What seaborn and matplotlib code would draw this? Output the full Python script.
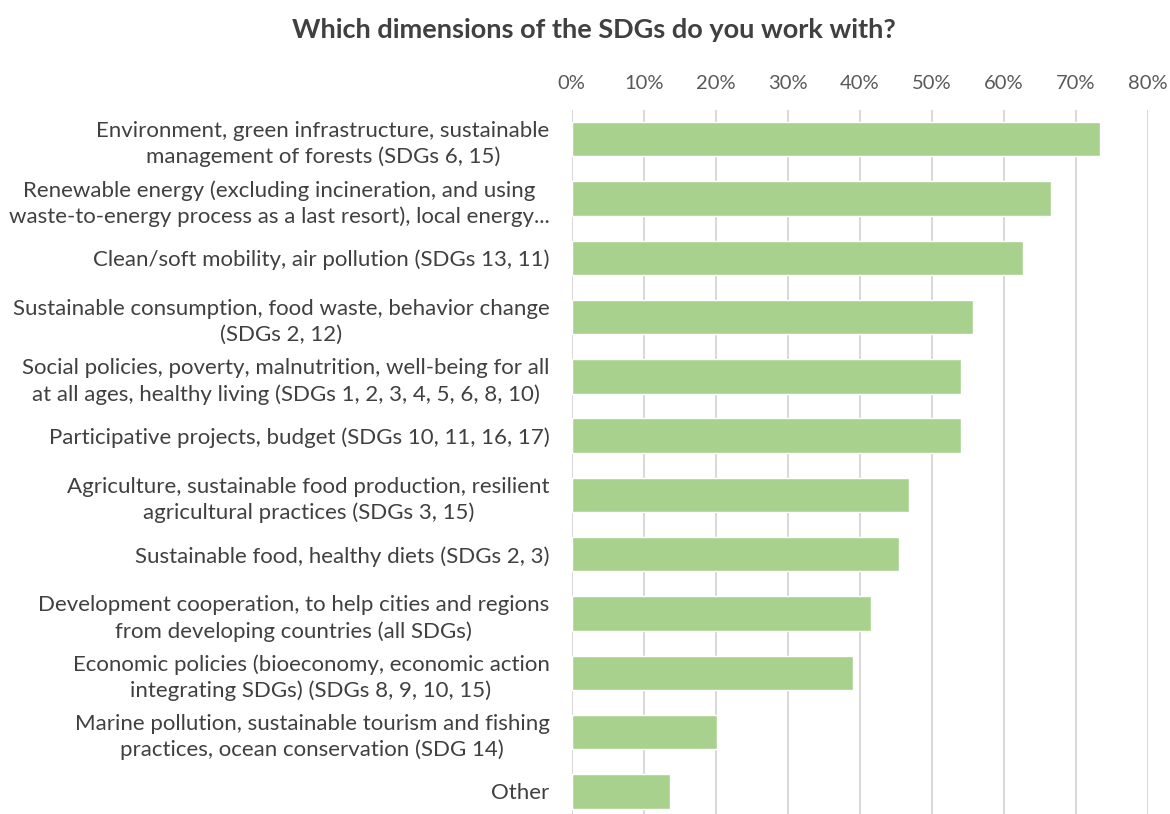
import numpy as np
import pandas as pd
import matplotlib
matplotlib.use("Agg")
import matplotlib.pyplot as plt
import seaborn as sns
from matplotlib.ticker import PercentFormatter, MultipleLocator

sns.set_theme(style="white")
plt.rcParams['font.family'] = ['Lato', 'DejaVu Sans']

# survey answers, share of respondents
categories = [
    "Environment, green infrastructure, sustainable\nmanagement of forests (SDGs 6, 15)",
    "Renewable energy (excluding incineration, and using\nwaste-to-energy process as a last resort), local energy...",
    "Clean/soft mobility, air pollution (SDGs 13, 11)",
    "Sustainable consumption, food waste, behavior change\n(SDGs 2, 12)",
    "Social policies, poverty, malnutrition, well-being for all\nat all ages, healthy living (SDGs 1, 2, 3, 4, 5, 6, 8, 10)",
    "Participative projects, budget (SDGs 10, 11, 16, 17)",
    "Agriculture, sustainable food production, resilient\nagricultural practices (SDGs 3, 15)",
    "Sustainable food, healthy diets (SDGs 2, 3)",
    "Development cooperation, to help cities and regions\nfrom developing countries (all SDGs)",
    "Economic policies (bioeconomy, economic action\nintegrating SDGs) (SDGs 8, 9, 10, 15)",
    "Marine pollution, sustainable tourism and fishing\npractices, ocean conservation (SDG 14)",
    "Other",
]
shares = [0.733, 0.665, 0.626, 0.557, 0.540, 0.540, 0.468, 0.454, 0.416, 0.390, 0.202, 0.137]

df = pd.DataFrame({"dimension": categories, "share": shares})

fig = plt.figure(figsize=(11.7, 8.14), dpi=100)
ax = fig.add_axes([0.4886, 0.0, 0.4925, 0.8654])

sns.barplot(data=df, x="share", y="dimension", orient="h", color="#A9D18E",
            saturation=1, width=0.58, ax=ax, zorder=3)

ax.set_xlim(0, 0.8)
ax.set_ylim(11.38, -0.5)
ax.xaxis.set_major_locator(MultipleLocator(0.1))
ax.xaxis.set_major_formatter(PercentFormatter(1.0, decimals=0))
ax.xaxis.tick_top()
ax.grid(axis="x", color="#D9D9D9", linewidth=1.5, zorder=0)
ax.set_axisbelow(True)
for s in ax.spines.values():
    s.set_visible(False)
ax.tick_params(axis="x", length=0, pad=13, labelsize=14.5, labelcolor="#595959")
ax.tick_params(axis="y", length=0, pad=16, labelsize=16, labelcolor="#404040")
for lbl in ax.get_yticklabels():
    lbl.set_multialignment("center")
    lbl.set_linespacing(1.35)
ax.set_xlabel("")
ax.set_ylabel("")

fig.text(0.508, 0.963, "Which dimensions of the SDGs do you work with?",
         ha="center", va="center", fontsize=19.5, fontweight="bold", color="#404040")

fig.savefig("out.png", dpi=100)
